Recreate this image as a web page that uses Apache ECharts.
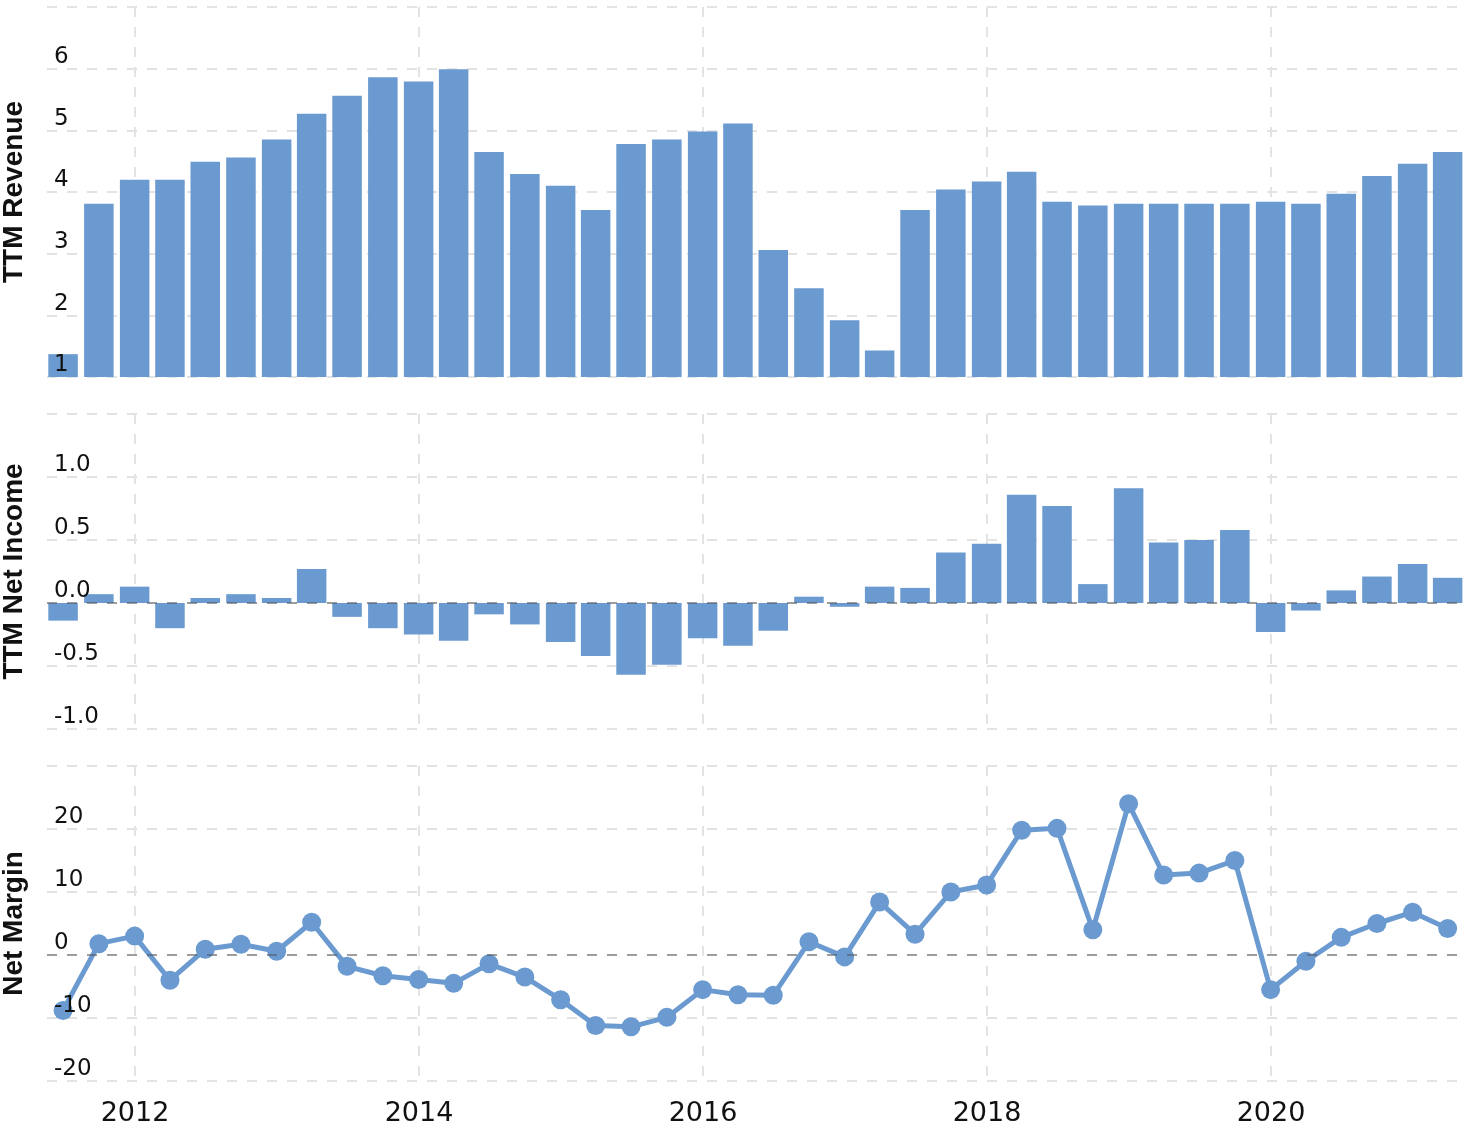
<!DOCTYPE html>
<html>
<head>
<meta charset="utf-8">
<script src="https://cdn.jsdelivr.net/npm/echarts@6/dist/echarts.min.js"></script>
<style>
  html, body { margin: 0; padding: 0; background: #fff; }
  #chart { width: 1468px; height: 1128px; }
</style>
</head>
<body>
<div id="chart"></div>
<script>
// Quarter-end dates
const dates = [
  "2011-06-30","2011-09-30","2011-12-31",
  "2012-03-31","2012-06-30","2012-09-30","2012-12-31",
  "2013-03-31","2013-06-30","2013-09-30","2013-12-31",
  "2014-03-31","2014-06-30","2014-09-30","2014-12-31",
  "2015-03-31","2015-06-30","2015-09-30","2015-12-31",
  "2016-03-31","2016-06-30","2016-09-30","2016-12-31",
  "2017-03-31","2017-06-30","2017-09-30","2017-12-31",
  "2018-03-31","2018-06-30","2018-09-30","2018-12-31",
  "2019-03-31","2019-06-30","2019-09-30","2019-12-31",
  "2020-03-31","2020-06-30","2020-09-30","2020-12-31",
  "2021-03-31"
];

// TTM Revenue
const revenue = [
  1.37, 3.81, 4.20,
  4.20, 4.49, 4.56, 4.85,
  5.27, 5.56, 5.86, 5.79,
  5.99, 4.65, 4.29, 4.10,
  3.71, 4.78, 4.85, 4.98,
  5.11, 3.06, 2.44, 1.92,
  1.43, 3.71, 4.04, 4.17,
  4.33, 3.84, 3.78, 3.81,
  3.81, 3.81, 3.81, 3.84,
  3.81, 3.97, 4.26, 4.46,
  4.65
];

// TTM Net Income
const netIncome = [
  -0.14, 0.07, 0.13,
  -0.20, 0.04, 0.07, 0.04,
  0.27, -0.11, -0.20, -0.25,
  -0.30, -0.09, -0.17, -0.31,
  -0.42, -0.57, -0.49, -0.28,
  -0.34, -0.22, 0.05, -0.03,
  0.13, 0.12, 0.40, 0.47,
  0.86, 0.77, 0.15, 0.91,
  0.48, 0.50, 0.58, -0.23,
  -0.06, 0.10, 0.21, 0.31,
  0.20
];

// Net Margin (%)
const netMargin = [
  -8.8, 1.8, 3.0,
  -4.0, 0.9, 1.7, 0.6,
  5.2, -1.8, -3.3, -3.9,
  -4.5, -1.4, -3.5, -7.1,
  -11.2, -11.4, -9.9, -5.5,
  -6.3, -6.4, 2.1, -0.3,
  8.4, 3.3, 10.0, 11.1,
  19.8, 20.1, 4.0, 24.0,
  12.7, 13.0, 15.0, -5.5,
  -1.0, 2.8, 5.0, 6.8,
  4.2
];

// Axis names
const axisNames = ["TTM Revenue", "TTM Net Income", "Net Margin"];

function toYear(s) {
  const p = s.split('-').map(Number);
  const start = Date.UTC(p[0], 0, 1), end = Date.UTC(p[0] + 1, 0, 1);
  return p[0] + (Date.UTC(p[0], p[1] - 1, p[2]) - start) / (end - start);
}
const xs = dates.map(toYear);
const pair = arr => arr.map((v, i) => [xs[i], v]);

const BLUE = '#6a9ad0';
const GRID_LINE = { show: true, lineStyle: { color: '#e3e3e3', width: 2, type: [10, 10] } };
const X_MIN = 2011.38, X_MAX = 2021.345;

const grids = [
  { left: 47, right: 6, top: 7, height: 370, outerBoundsMode: 'none', containLabel: false },
  { left: 47, right: 6, top: 414, height: 315, outerBoundsMode: 'none', containLabel: false },
  { left: 47, right: 6, top: 766, height: 315, outerBoundsMode: 'none', containLabel: false }
];

function xAxis(i, showLabel) {
  return {
    type: 'value', gridIndex: i, min: X_MIN, max: X_MAX,
    axisLine: { show: false }, axisTick: { show: false },
    splitLine: Object.assign({ showMinLine: false, showMaxLine: false }, GRID_LINE),
    axisLabel: {
      show: showLabel, showMinLabel: false, showMaxLabel: false,
      margin: 19, fontFamily: 'DejaVu Sans', fontSize: 27, color: '#111',
      formatter: v => (Math.abs(v - Math.round(v)) < 1e-6) ? String(Math.round(v)) : ''
    }
  };
}

const yCfg = [
  { min: 1, max: 7, interval: 1, fmt: v => (v >= 7 ? '' : String(v)) },
  { min: -1, max: 1.5, interval: 0.5, fmt: v => (v >= 1.5 ? '' : v.toFixed(1)) },
  { min: -20, max: 30, interval: 10, fmt: v => (v >= 30 ? '' : String(v)) }
];

const yAxes = [];
yCfg.forEach((c, i) => {
  yAxes.push({
    type: 'value', gridIndex: i, position: 'left', min: c.min, max: c.max, interval: c.interval,
    axisLine: { show: false }, axisTick: { show: false }, axisLabel: { show: false },
    splitLine: GRID_LINE,
    name: axisNames[i], nameLocation: 'middle', nameGap: 19,
    nameTextStyle: { fontFamily: 'Liberation Sans', fontWeight: 'bold', fontSize: 28, color: '#111' }
  });
  yAxes.push({
    type: 'value', gridIndex: i, position: 'left', offset: 0,
    min: c.min, max: c.max, interval: c.interval, z: 10,
    axisLine: { show: false }, axisTick: { show: false }, splitLine: { show: false },
    axisLabel: {
      inside: true, margin: 7, verticalAlign: 'bottom', lineHeight: 23,
      fontFamily: 'DejaVu Sans', fontSize: 23, color: '#111', formatter: c.fmt
    }
  });
});

const zeroLine = {
  silent: true, symbol: ['none', 'none'], label: { show: false },
  lineStyle: { color: 'rgba(70,70,70,0.45)', width: 2, type: [10, 10] },
  emphasis: { disabled: true },
  data: [{ yAxis: 0 }]
};

const option = {
  animation: false,
  backgroundColor: '#fff',
  grid: grids,
  xAxis: [xAxis(0, false), xAxis(1, false), xAxis(2, true)],
  yAxis: yAxes,
  series: [
    {
      type: 'bar', xAxisIndex: 0, yAxisIndex: 0, barWidth: 29.5,
      itemStyle: { color: BLUE }, data: pair(revenue)
    },
    {
      type: 'bar', xAxisIndex: 1, yAxisIndex: 2, barWidth: 29.5,
      itemStyle: { color: BLUE }, data: pair(netIncome), markLine: zeroLine
    },
    {
      type: 'line', xAxisIndex: 2, yAxisIndex: 4,
      symbol: 'circle', symbolSize: 19, showSymbol: true,
      lineStyle: { color: BLUE, width: 5 }, itemStyle: { color: BLUE },
      data: pair(netMargin), markLine: zeroLine, z: 3
    }
  ]
};

const chart = echarts.init(document.getElementById('chart'), null, { renderer: 'canvas' });
chart.setOption(option);
</script>
</body>
</html>
